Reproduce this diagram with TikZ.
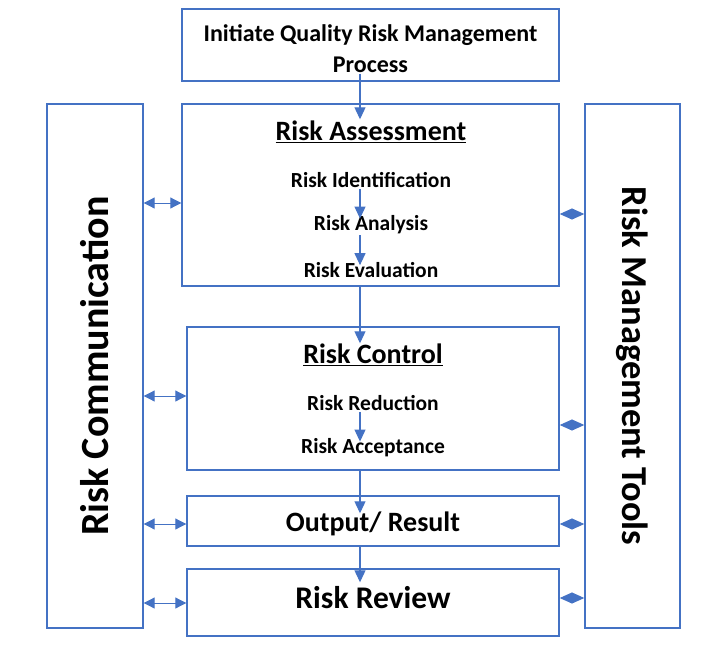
\documentclass[tikz,border=0pt]{standalone}
\usepackage{fontspec}
\setmainfont{Carlito}
\usepackage{tikz}
\usetikzlibrary{arrows.meta}

\definecolor{qrmblue}{HTML}{4472C4}

\tikzset{
    box/.style={draw=qrmblue, line width=1.4pt, inner sep=0pt},
    txt/.style={font=\bfseries, inner sep=1pt, align=center},
    flow/.style={draw=qrmblue, line width=1.1pt, -{Triangle[length=12pt,width=11pt]}},
    link/.style={draw=qrmblue, line width=1pt, {Triangle[length=11pt,width=11pt]}-{Triangle[length=11pt,width=11pt]}},
    tight/.style={draw=qrmblue, line width=1pt, {Triangle[length=12.5pt,width=11pt]}-{Triangle[length=12.5pt,width=11pt]}},
}

\begin{document}
\begin{tikzpicture}[x=1pt, y=-1pt]
\useasboundingbox (0,0) rectangle (713,648);
% boxes
\node[box, minimum width=377pt, minimum height=72pt]  (init)   at (370.5, 45)  {};
\node[box, minimum width=96pt,  minimum height=524pt] (comm)   at (95, 366)    {};
\node[box, minimum width=95pt,  minimum height=524pt] (tools)  at (632.5, 366) {};
\node[box, minimum width=377pt, minimum height=182pt] (assess) at (370.5, 195) {};
\node[box, minimum width=372pt, minimum height=143pt] (ctrl)   at (373, 398.5) {};
\node[box, minimum width=372pt, minimum height=50pt]  (output) at (373, 521)   {};
\node[box, minimum width=372pt, minimum height=67pt]  (review) at (373, 602.5) {};
% texts
\node[txt, font=\fontsize{24}{31}\selectfont\bfseries] at (370.5, 48.5) {Initiate Quality Risk Management\\Process};
\node[txt, rotate=90, font=\fontsize{40}{44}\selectfont\bfseries] at (comm) {Risk Communication};
\node[txt, rotate=-90, font=\fontsize{36.5}{40}\selectfont\bfseries] at (tools) {Risk Management Tools};
\node[txt, font=\fontsize{28}{30}\selectfont\bfseries] (assesst) at (371, 132) {\underline{Risk Assessment}};
\node[txt, font=\fontsize{21.5}{24}\selectfont\bfseries] (ident) at (371, 180) {Risk Identification};
\node[txt, font=\fontsize{21.5}{24}\selectfont\bfseries] (anal)  at (371, 225) {Risk Analysis};
\node[txt, font=\fontsize{21.5}{24}\selectfont\bfseries] (eval)  at (371, 270) {Risk Evaluation};
\node[txt, font=\fontsize{28}{30}\selectfont\bfseries] (ctrlt) at (373, 355) {\underline{Risk Control}};
\node[txt, font=\fontsize{21.5}{24}\selectfont\bfseries] (reduc) at (373, 403) {Risk Reduction};
\node[txt, font=\fontsize{21.5}{24}\selectfont\bfseries] (accep) at (373, 448) {Risk Acceptance};
\node[txt, font=\fontsize{28}{30}\selectfont\bfseries] at (373, 524) {Output/ Result};
\node[txt, font=\fontsize{31.5}{34}\selectfont\bfseries] at (373, 598) {Risk Review};
% main flow
\draw[flow] ([xshift=-10.5pt,yshift=8pt]init.south) -- ([xshift=-10.5pt,yshift=-16pt]assess.north);
\draw[flow] ([xshift=-10.5pt]assess.south) -- ([xshift=-13pt,yshift=-17pt]ctrl.north);
\draw[flow] ([xshift=-13pt]ctrl.south)   -- ([xshift=-13pt,yshift=-18pt]output.north);
\draw[flow] ([xshift=-13pt]output.south) -- ([xshift=-13pt,yshift=-14pt]review.north);
\draw[flow] ([xshift=-11pt]ident.south) -- ([xshift=-11pt,yshift=-4pt]anal.north);
\draw[flow] ([xshift=-11pt]anal.south)  -- ([xshift=-11pt,yshift=-4pt]eval.north);
\draw[flow] ([xshift=-13pt]reduc.south) -- ([xshift=-13pt,yshift=-4pt]accep.north);
% communication side
\path ([yshift=-8pt]assess.west)   coordinate (l1);
\path ([yshift=2.5pt]ctrl.west)    coordinate (l2);
\path ([yshift=-3pt]output.west)   coordinate (l3);
\path ([yshift=-0.5pt]review.west) coordinate (l4);
\foreach \p in {l1,l2,l3,l4}
    \draw[link] (\p) -- (comm.east |- \p);
% tools side
\path ([yshift=-19pt]assess.east)  coordinate (r1);
\path ([yshift=-26.5pt]ctrl.east)  coordinate (r2);
\path ([yshift=-3pt]output.east)   coordinate (r3);
\path ([yshift=4.5pt]review.east)  coordinate (r4);
\foreach \p in {r1,r2,r3,r4}
    \draw[tight] (\p) -- (tools.west |- \p);
\end{tikzpicture}
\end{document}
